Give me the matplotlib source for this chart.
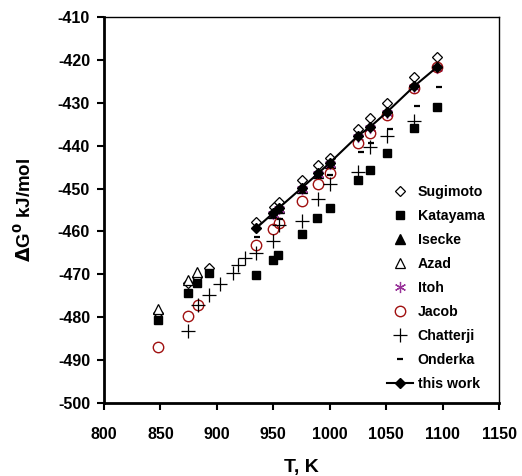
import matplotlib
matplotlib.use("Agg")
import matplotlib.pyplot as plt

plt.rcParams['font.family'] = ['Liberation Sans', 'DejaVu Sans']
plt.rcParams['font.weight'] = 'bold'
plt.rcParams['axes.unicode_minus'] = False

# data (T in K, dG in kJ/mol)
sug_T = [848, 874, 882, 893, 935, 951, 955, 975, 990, 1000, 1025, 1036, 1051, 1075, 1095]
sug_G = [-479.0, -472.0, -470.6, -468.5, -457.8, -454.3, -453.1, -448.0, -444.5, -442.8,
         -436.0, -433.6, -430.0, -424.0, -419.3]

kat_T = [848, 874, 882, 893, 935, 950, 954, 975, 989, 1000, 1025, 1036, 1051, 1075, 1095]
kat_G = [-480.6, -474.3, -472.0, -469.7, -470.2, -466.7, -465.5, -460.6, -456.9, -454.5,
         -448.0, -445.7, -441.7, -435.9, -431.0]

ise_T = [950, 955, 975, 990, 1000]
ise_G = [-455.7, -454.5, -449.9, -446.4, -444.0]

aza_T = [848, 874, 882]
aza_G = [-478.1, -471.3, -469.5]

ito_T = [950, 955, 975, 990, 1000, 1025, 1036, 1051, 1075, 1095]
ito_G = [-455.9, -454.7, -450.2, -446.6, -444.3, -437.9, -435.8, -432.3, -426.3, -421.9]

jac_T = [848, 874, 883, 935, 950, 955, 975, 990, 1000, 1025, 1036, 1051, 1075, 1095]
jac_G = [-486.9, -479.7, -477.2, -463.2, -459.4, -458.0, -452.9, -448.9, -446.4,
         -439.4, -437.0, -432.8, -426.6, -421.7]

cha_T = [874, 883, 893, 903, 914, 919, 925, 935, 950, 955, 975, 990, 1000, 1025, 1036, 1051, 1075]
cha_G = [-483.2, -477.2, -474.8, -472.3, -469.7, -467.8, -466.2, -465.0, -462.2, -458.5,
         -457.6, -452.4, -448.9, -446.2, -440.3, -437.7, -434.2]

ond_T = [936, 956, 1000, 1028, 1037, 1053, 1077, 1097]
ond_G = [-461.3, -457.1, -446.8, -441.5, -439.4, -436.0, -430.7, -426.3]

tw_T = [935, 950, 955, 975, 990, 1000, 1025, 1036, 1051, 1075, 1095]
tw_G = [-459.2, -455.7, -454.5, -449.9, -446.4, -444.0, -437.7, -435.6, -432.1, -426.1, -421.7]

x_ticks = [800, 850, 900, 950, 1000, 1050, 1100, 1150]
y_ticks = [-500, -490, -480, -470, -460, -450, -440, -430, -420, -410]

fig = plt.figure(figsize=(5.22, 4.76), dpi=100)
ax = fig.add_axes([104 / 522, 1 - 403 / 476, 395 / 522, 386 / 476])

red = '#a01010'
purple = '#993399'

ax.plot(sug_T, sug_G, 'D', ms=5.5, mfc='white', mec='black', mew=0.9, ls='none', label='Sugimoto', zorder=3)
ax.plot(kat_T, kat_G, 's', ms=5.5, mfc='black', mec='black', ls='none', label='Katayama', zorder=3)
ax.plot(ise_T, ise_G, '^', ms=6.5, mfc='black', mec='black', ls='none', label='Isecke', zorder=2)
ax.plot(aza_T, aza_G, '^', ms=7, mfc='white', mec='black', mew=0.9, ls='none', label='Azad', zorder=3)
ax.plot(ito_T, ito_G, marker=(6, 2, 0), ms=8, color=purple, mew=0.9, ls='none', label='Itoh', zorder=3)
ax.plot(jac_T, jac_G, 'o', ms=7.5, mfc='none', mec=red, mew=1.0, ls='none', label='Jacob', zorder=3)
ax.plot(cha_T, cha_G, '+', ms=10, color='black', mew=0.9, ls='none', label='Chatterji', zorder=3)
ax.plot(ond_T, ond_G, '_', ms=5, color='black', mew=1.6, ls='none', label='Onderka', zorder=3)
ax.plot(tw_T, tw_G, '-D', ms=5.5, color='black', lw=1.5, label='this work', zorder=4)

ax.set_xlim(800, 1150)
ax.set_ylim(-500, -410)
ax.set_xticks(x_ticks)
ax.set_yticks(y_ticks)
ax.tick_params(direction='out', length=5, width=1.5, labelsize=11.5)
ax.tick_params(axis='x', pad=12)
ax.tick_params(axis='y', pad=5)
for lab in ax.get_xticklabels() + ax.get_yticklabels():
    lab.set_fontweight('bold')

ax.spines['left'].set_linewidth(2)
ax.spines['bottom'].set_linewidth(2)
ax.spines['top'].set_linewidth(1)
ax.spines['right'].set_linewidth(1)

ax.set_xlabel('T, K', fontsize=14, fontweight='bold')
ax.set_ylabel(r'$\mathbf{\Delta}$G$^{\mathbf{0}}$ kJ/mol', fontsize=13.5, fontweight='bold')
ax.xaxis.set_label_coords(0.5, -0.145)
ax.yaxis.set_label_coords(-0.175, 0.5)

leg = ax.legend(loc='lower right', bbox_to_anchor=(0.985, 0.01), frameon=False,
                fontsize=10.2, labelspacing=0.7, handlelength=1.9, handletextpad=0.3,
                borderaxespad=0.2)
for t in leg.get_texts():
    t.set_fontweight('bold')

fig.savefig('out.png', dpi=100)
